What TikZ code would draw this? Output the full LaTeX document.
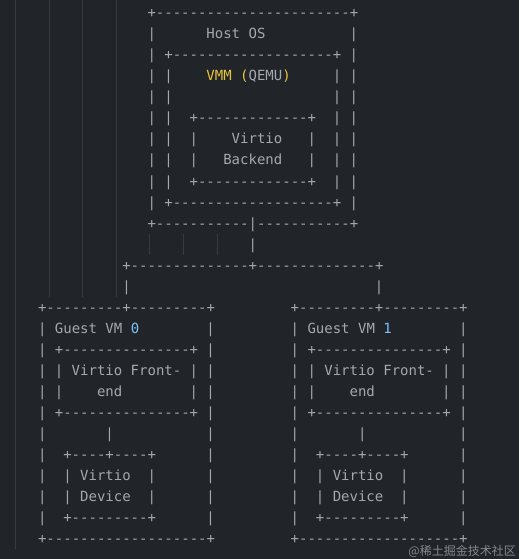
\documentclass[tikz,border=0pt]{standalone}
\usepackage{fontspec}
\setmonofont{DejaVu Sans Mono}
\newfontfamily\cjk{Noto Sans CJK SC}
\frenchspacing

\definecolor{bgdark}{HTML}{212429}
\definecolor{artgray}{HTML}{A3A9B0}
\definecolor{guidegray}{HTML}{363B43}
\definecolor{vmmyellow}{HTML}{E8C53A}
\definecolor{numblue}{HTML}{7CC4F8}
\definecolor{markgray}{HTML}{858A91}

\tikzset{
  art/.style={anchor=base west, inner sep=0pt, outer sep=0pt,
    font=\ttfamily\fontsize{14}{14}\selectfont, text=artgray},
  guide/.style={draw=guidegray, line width=0.7pt},
}

% one piece of the sketch: column, row, text
\newcommand{\piece}[3]{%
  \pgfmathtruncatemacro\pcol{#1}%
  \node[art] (p\pcol-#2) at ({12.8+8.42*(#1)},{17.7+21.04*(#2-1)}) {#3};}

\begin{document}
\begin{tikzpicture}[x=1pt, y=-1pt]
  % Fondo
  \fill[bgdark] (0,0) rectangle (519,559);
  \useasboundingbox (0,0) rectangle (519,559);

  % Guias de sangria
  \draw[guide] (15,0) -- (15,549);
  \draw[guide] (49,0) -- (49,297);
  \draw[guide] (82,0) -- (82,297);
  \draw[guide] (116,0) -- (116,297);
  \draw[guide] (149,234) -- (149,255);
  \draw[guide] (183,234) -- (183,255);
  \draw[guide] (217,234) -- (217,255);

  % Host OS
  \piece{16}{1}{+-----------------------+}
  \piece{16}{2}{|} \piece{23}{2}{Host OS} \piece{40}{2}{|}
  \piece{16}{3}{|} \piece{18}{3}{+-------------------+} \piece{40}{3}{|}
  \piece{16}{4}{|} \piece{18}{4}{|} \piece{23}{4}{{\color{vmmyellow}VMM (}QEMU{\color{vmmyellow})}} \piece{38}{4}{|} \piece{40}{4}{|}
  \piece{16}{5}{|} \piece{18}{5}{|} \piece{38}{5}{|} \piece{40}{5}{|}
  \piece{16}{6}{|} \piece{18}{6}{|} \piece{21}{6}{+-------------+} \piece{38}{6}{|} \piece{40}{6}{|}
  \piece{16}{7}{|} \piece{18}{7}{|} \piece{21}{7}{|} \piece{26}{7}{Virtio} \piece{35}{7}{|} \piece{38}{7}{|} \piece{40}{7}{|}
  \piece{16}{8}{|} \piece{18}{8}{|} \piece{21}{8}{|} \piece{25}{8}{Backend} \piece{35}{8}{|} \piece{38}{8}{|} \piece{40}{8}{|}
  \piece{16}{9}{|} \piece{18}{9}{|} \piece{21}{9}{+-------------+} \piece{38}{9}{|} \piece{40}{9}{|}
  \piece{16}{10}{|} \piece{18}{10}{+-------------------+} \piece{40}{10}{|}
  \piece{16}{11}{+-----------|-----------+}

  % Enlace hacia las VM
  \piece{28}{12}{|}
  \piece{13}{13}{+--------------+--------------+}
  \piece{13}{14}{|} \piece{43}{14}{|}

  % Guest VM 0 y Guest VM 1
  \piece{3}{15}{+---------+---------+} \piece{33}{15}{+---------+---------+}
  \piece{3}{16}{|} \piece{5}{16}{Guest VM {\color{numblue}0}} \piece{23}{16}{|}
  \piece{33}{16}{|} \piece{35}{16}{Guest VM {\color{numblue}1}} \piece{53}{16}{|}
  \piece{3}{17}{|} \piece{5}{17}{+---------------+} \piece{23}{17}{|}
  \piece{33}{17}{|} \piece{35}{17}{+---------------+} \piece{53}{17}{|}
  \piece{3}{18}{|} \piece{5}{18}{|} \piece{7}{18}{Virtio Front-} \piece{21}{18}{|} \piece{23}{18}{|}
  \piece{33}{18}{|} \piece{35}{18}{|} \piece{37}{18}{Virtio Front-} \piece{51}{18}{|} \piece{53}{18}{|}
  \piece{3}{19}{|} \piece{5}{19}{|} \piece{10}{19}{end} \piece{21}{19}{|} \piece{23}{19}{|}
  \piece{33}{19}{|} \piece{35}{19}{|} \piece{40}{19}{end} \piece{51}{19}{|} \piece{53}{19}{|}
  \piece{3}{20}{|} \piece{5}{20}{+---------------+} \piece{23}{20}{|}
  \piece{33}{20}{|} \piece{35}{20}{+---------------+} \piece{53}{20}{|}
  \piece{3}{21}{|} \piece{11}{21}{|} \piece{23}{21}{|}
  \piece{33}{21}{|} \piece{41}{21}{|} \piece{53}{21}{|}
  \piece{3}{22}{|} \piece{6}{22}{+----+----+} \piece{23}{22}{|}
  \piece{33}{22}{|} \piece{36}{22}{+----+----+} \piece{53}{22}{|}
  \piece{3}{23}{|} \piece{6}{23}{|} \piece{8}{23}{Virtio} \piece{16}{23}{|} \piece{23}{23}{|}
  \piece{33}{23}{|} \piece{36}{23}{|} \piece{38}{23}{Virtio} \piece{46}{23}{|} \piece{53}{23}{|}
  \piece{3}{24}{|} \piece{6}{24}{|} \piece{8}{24}{Device} \piece{16}{24}{|} \piece{23}{24}{|}
  \piece{33}{24}{|} \piece{36}{24}{|} \piece{38}{24}{Device} \piece{46}{24}{|} \piece{53}{24}{|}
  \piece{3}{25}{|} \piece{6}{25}{+---------+} \piece{23}{25}{|}
  \piece{33}{25}{|} \piece{36}{25}{+---------+} \piece{53}{25}{|}
  \piece{3}{26}{+-------------------+} \piece{33}{26}{+-------------------+}

  % Marca de agua
  \node[anchor=base east, inner sep=0pt, font=\cjk\fontsize{12}{12}\selectfont, text=markgray] (mark) at (516,555.5) {@稀土掘金技术社区};
\end{tikzpicture}
\end{document}
